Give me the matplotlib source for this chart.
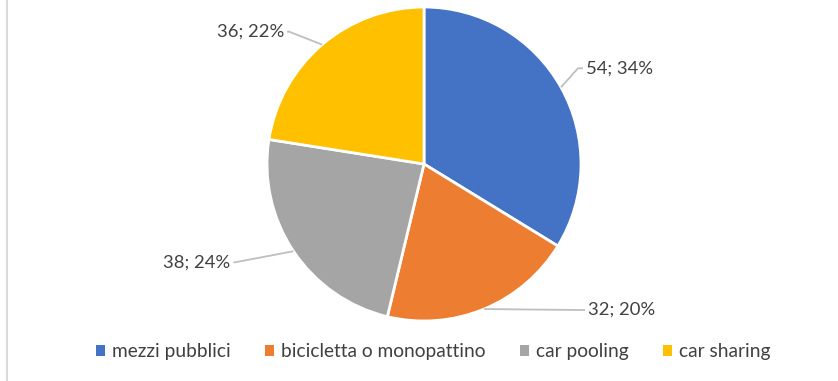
import numpy as np
import matplotlib.pyplot as plt
from matplotlib.lines import Line2D
from matplotlib.patches import Patch

labels = ['mezzi pubblici', 'bicicletta o monopattino', 'car pooling', 'car sharing']
values = [54, 32, 38, 36]
colors = ['#4472C4', '#ED7D31', '#A5A5A5', '#FFC000']

plt.rcParams['font.family'] = ['Lato', 'DejaVu Sans']
W, H = 838, 381
cx, cy, R = 424, 164, 157  # pie centre and radius in pixels

fig = plt.figure(figsize=(W / 100, H / 100), dpi=100)
ax = fig.add_axes([0, 0, 1, 1])
wedges, _ = ax.pie(values, colors=colors, startangle=90, counterclock=False,
                   wedgeprops=dict(edgecolor='white', linewidth=2))
ax.set_aspect('auto')
ax.set_xlim(-cx / R, (W - cx) / R)
ax.set_ylim((cy - H) / R, cy / R)
ax.axis('off')

total = sum(values)
txt_color = '#404040'
# leader line offsets (pixels): elbow point, text side
leaders = [
    [(17, -19), (22, -19)],
    [(100, 1), (101, 1)],
    [(-58, 11), (-60, 11)],
    [(-33, -13), (-35, -13)],
]
for w, v, pts in zip(wedges, values, leaders):
    mid = np.deg2rad((w.theta1 + w.theta2) / 2)
    x0, y0 = np.cos(mid), np.sin(mid)
    xs = [x0] + [x0 + dx / R for dx, dy in pts]
    ys = [y0] + [y0 - dy / R for dx, dy in pts]
    ax.plot(xs, ys, color='#BFBFBF', lw=1.3, solid_capstyle='butt')
    ha = 'left' if pts[-1][0] > 0 else 'right'
    pad = 3 / R if ha == 'left' else -3 / R
    ax.text(xs[-1] + pad, ys[-1], f'{v}; {round(100 * v / total)}%',
            ha=ha, va='center', fontsize=13.3, color=txt_color)

handles = [Patch(facecolor=c, edgecolor='none') for c in colors]
fig.legend(handles, labels, loc='center', bbox_to_anchor=(0.517, 1 - 352 / H),
           ncol=4, frameon=False, fontsize=13.8, labelcolor=txt_color,
           handlelength=0.47, handleheight=0.47, handletextpad=0.36,
           columnspacing=1.8, borderpad=0)

fig.add_artist(Line2D([6.5 / W, 6.5 / W], [0, 1], color='#D9D9D9', lw=1.5,
                      transform=fig.transFigure))

fig.savefig('out.png', dpi=100)
